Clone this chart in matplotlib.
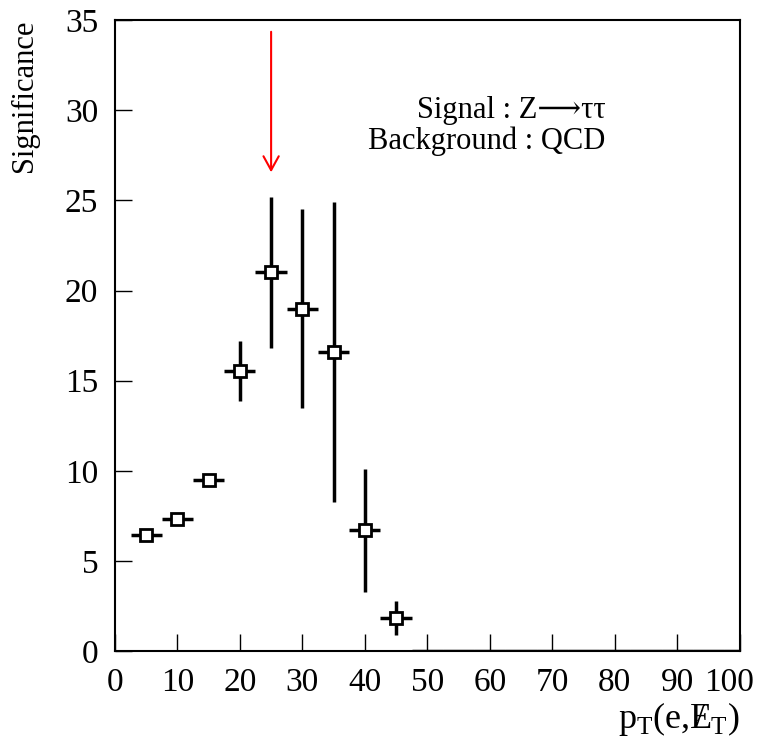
import matplotlib.pyplot as plt
import matplotlib.transforms as mtransforms

plt.rcParams['font.family'] = ['Liberation Serif', 'DejaVu Serif', 'DejaVu Sans']

# significance per pT bin (bin width 5)
pt = [5, 10, 15, 20, 25, 30, 35, 40, 45]
significance = [6.45, 7.35, 9.5, 15.55, 21.0, 19.0, 16.6, 6.7, 1.85]
err_low = [0.1, 0.1, 0.35, 1.65, 4.2, 5.5, 8.3, 3.4, 0.95]
err_high = [0.1, 0.1, 0.35, 1.65, 4.2, 5.5, 8.3, 3.4, 0.95]
half_width = 2.5

# empty bins drawn at zero
empty_pt = [50, 55, 60, 65, 70, 75, 80, 85, 90, 95, 100]
empty_val = [0] * len(empty_pt)

cut_value = 25
arrow_top, arrow_tip = 34.5, 26.4

fig = plt.figure(figsize=(7.61, 7.40), dpi=100)
ax = fig.add_axes([0.151, 0.120, 0.821, 0.853])

ax.errorbar(pt, significance, yerr=[err_low, err_high], xerr=half_width,
            fmt='s', color='black', mfc='white', mec='black', ms=8, mew=2,
            elinewidth=2.5, capsize=0, zorder=3)
ax.errorbar(empty_pt, empty_val, xerr=half_width, fmt='none',
            ecolor='black', elinewidth=2.5, capsize=0, zorder=2)

# red arrow marking the chosen cut
ax.annotate('', xy=(cut_value, arrow_tip), xytext=(cut_value, arrow_top),
            arrowprops=dict(arrowstyle='->,head_length=1.0,head_width=0.55',
                            color='red', lw=1.5))

ax.text(0.785, 0.845, 'Signal : Z\u27f6\u03c4\u03c4', transform=ax.transAxes,
        ha='right', va='baseline', fontsize=22)
ax.text(0.785, 0.796, 'Background : QCD', transform=ax.transAxes,
        ha='right', va='baseline', fontsize=22)

ax.set_xlim(0, 100)
ax.set_ylim(0, 35)
ax.set_xticks(range(0, 101, 10))
ax.set_yticks(range(0, 36, 5))
ax.tick_params(direction='in', length=12, width=1, labelsize=24,
               top=False, right=False, pad=12)
for s in ax.spines.values():
    s.set_linewidth(1.5)

# ROOT pulls the last label inside the canvas
last = ax.get_xticklabels()[-1]
last.set_transform(last.get_transform() +
                   mtransforms.ScaledTranslation(-8 / 72, 0, fig.dpi_scale_trans))

ax.set_ylabel('Significance', fontsize=22, loc='top')
ax.yaxis.set_label_coords(-0.122, 1.0)
# missing transverse energy: E with a slash drawn over it
ax.set_xlabel(r'p$_\mathregular{T}$(e,${\mathregular{E}\!\!\!\mathregular{/}\,}_\mathregular{T}$)',
              fontsize=26, loc='right')
ax.xaxis.set_label_coords(1.0, -0.078)

plt.savefig('out.png', dpi=100)
